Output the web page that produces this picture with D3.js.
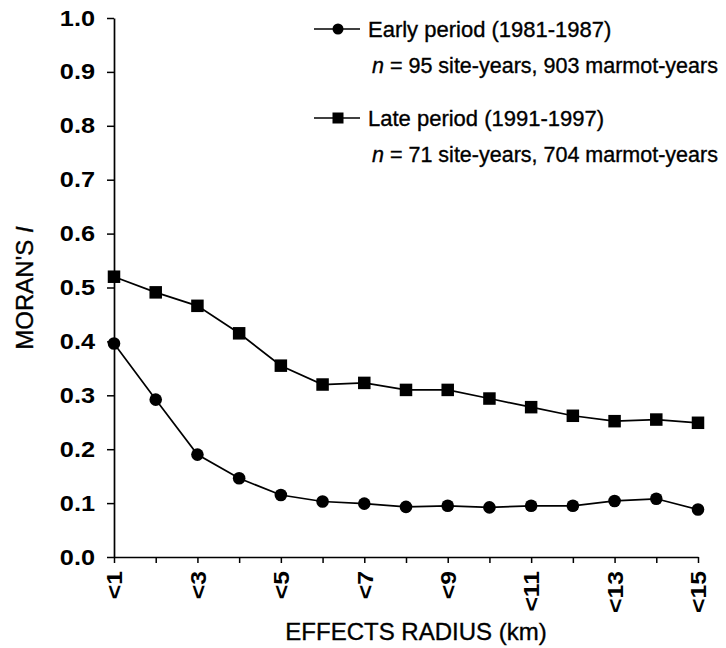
<!DOCTYPE html>
<html>
<head>
<meta charset="utf-8">
<script src="https://cdn.jsdelivr.net/npm/d3@7"></script>
<style>
  html, body { margin: 0; padding: 0; background: #fff; }
  svg { display: block; font-family: "Liberation Sans", Arial, sans-serif; }
</style>
</head>
<body>
<svg id="chart" width="726" height="648"></svg>
<script>
// ---- data ----
const radii = ["<1","<2","<3","<4","<5","<6","<7","<8","<9","<10","<11","<12","<13","<14","<15"];
const xTickLabels = ["<1","<3","<5","<7","<9","<11","<13","<15"];
const earlyValues = [0.396, 0.292, 0.190, 0.146, 0.115, 0.103, 0.099, 0.093, 0.095, 0.092, 0.095, 0.095, 0.104, 0.108, 0.088];
const lateValues  = [0.520, 0.491, 0.466, 0.415, 0.355, 0.320, 0.323, 0.310, 0.310, 0.294, 0.278, 0.262, 0.252, 0.255, 0.249];
const yTicks = [0.0, 0.1, 0.2, 0.3, 0.4, 0.5, 0.6, 0.7, 0.8, 0.9, 1.0];
const seriesNames = ["Early period (1981-1987)", "Late period (1991-1997)"];
const seriesN = [["95", "903"], ["71", "704"]];
const xTitle = "EFFECTS RADIUS (km)";
const yTitle = "MORAN'S ";
const yTitleItalic = "I";

// ---- layout ----
const svg = d3.select("#chart");
const plotL = 114, plotR = 698, plotT = 18, plotB = 557;

const x = d3.scalePoint().domain(radii).range([plotL, plotR]);
const y = d3.scaleLinear().domain([0, 1]).range([plotB, plotT]);

function stretch(sel, factor) {
  sel.each(function () {
    const w = this.getComputedTextLength();
    d3.select(this).attr("textLength", w * factor).attr("lengthAdjust", "spacingAndGlyphs");
  });
}

// y axis
const yAxis = svg.append("g")
  .attr("transform", `translate(${plotL},0)`)
  .call(d3.axisLeft(y).tickValues(yTicks).tickFormat(d3.format(".1f")).tickSize(7).tickSizeOuter(0).tickPadding(12));
yAxis.select(".domain").attr("stroke", "#000").attr("stroke-width", 1.7);
yAxis.selectAll(".tick line").attr("stroke", "#000").attr("stroke-width", 1.5);
yAxis.selectAll(".tick text")
  .attr("font-size", 22).attr("font-weight", "bold").attr("fill", "#000")
  .attr("font-family", "Liberation Sans, Arial, sans-serif");
stretch(yAxis.selectAll(".tick text"), 1.15);

// x axis
const xAxis = svg.append("g")
  .attr("transform", `translate(0,${plotB})`)
  .call(d3.axisBottom(x).tickSize(6).tickSizeOuter(0)
    .tickFormat(d => xTickLabels.includes(d) ? d : ""));
xAxis.select(".domain").attr("stroke", "#000").attr("stroke-width", 1.7);
xAxis.selectAll(".tick line").attr("stroke", "#000").attr("stroke-width", 1.5);
xAxis.selectAll(".tick text")
  .attr("font-size", 21.5).attr("font-weight", "bold").attr("fill", "#000")
  .attr("font-family", "Liberation Sans, Arial, sans-serif")
  .attr("transform", "rotate(-90)")
  .attr("text-anchor", "end")
  .attr("x", -14).attr("y", 0).attr("dy", "0.36em");
stretch(xAxis.selectAll(".tick text"), 1.15);

// lines
const line = d3.line().x((d, i) => x(radii[i])).y(d => y(d));
[earlyValues, lateValues].forEach(vals => {
  svg.append("path").datum(vals)
    .attr("d", line).attr("fill", "none")
    .attr("stroke", "#000").attr("stroke-width", 1.7);
});

// markers
svg.append("g").selectAll("circle").data(earlyValues).join("circle")
  .attr("cx", (d, i) => x(radii[i])).attr("cy", d => y(d)).attr("r", 6.3).attr("fill", "#000");
const sq = 12.5;
svg.append("g").selectAll("rect").data(lateValues).join("rect")
  .attr("x", (d, i) => x(radii[i]) - sq / 2).attr("y", d => y(d) - sq / 2)
  .attr("width", sq).attr("height", sq).attr("fill", "#000");

// legend
const legendY = [29, 118];
const nY = [66, 155];
legendY.forEach((ly, k) => {
  const g = svg.append("g");
  g.append("line").attr("x1", 314).attr("x2", 360).attr("y1", ly).attr("y2", ly)
    .attr("stroke", "#000").attr("stroke-width", 1.7);
  if (k === 0) {
    g.append("circle").attr("cx", 338).attr("cy", ly).attr("r", 5.5).attr("fill", "#000");
  } else {
    g.append("rect").attr("x", 338 - 5.5).attr("y", ly - 5.5).attr("width", 11).attr("height", 11).attr("fill", "#000");
  }
  g.append("text").attr("x", 368).attr("y", ly + 8).attr("font-size", 22).attr("fill", "#000")
    .attr("stroke", "#000").attr("stroke-width", 0.35)
    .text(seriesNames[k]);
  const t = g.append("text").attr("x", 372).attr("y", nY[k] + 7).attr("font-size", 21.5).attr("fill", "#000")
    .attr("stroke", "#000").attr("stroke-width", 0.35);
  t.append("tspan").attr("font-style", "italic").text("n");
  t.append("tspan").text(` = ${seriesN[k][0]} site-years, ${seriesN[k][1]} marmot-years`);
});

// axis titles
svg.append("text").attr("x", 416).attr("y", 640).attr("text-anchor", "middle")
  .attr("font-size", 24).attr("fill", "#000").attr("stroke", "#000").attr("stroke-width", 0.35)
  .text(xTitle);
const yt = svg.append("text").attr("transform", `translate(33,288) rotate(-90)`)
  .attr("text-anchor", "middle").attr("font-size", 24).attr("fill", "#000")
  .attr("stroke", "#000").attr("stroke-width", 0.35);
yt.append("tspan").text(yTitle);
yt.append("tspan").attr("font-style", "italic").text(yTitleItalic);
</script>
</body>
</html>
